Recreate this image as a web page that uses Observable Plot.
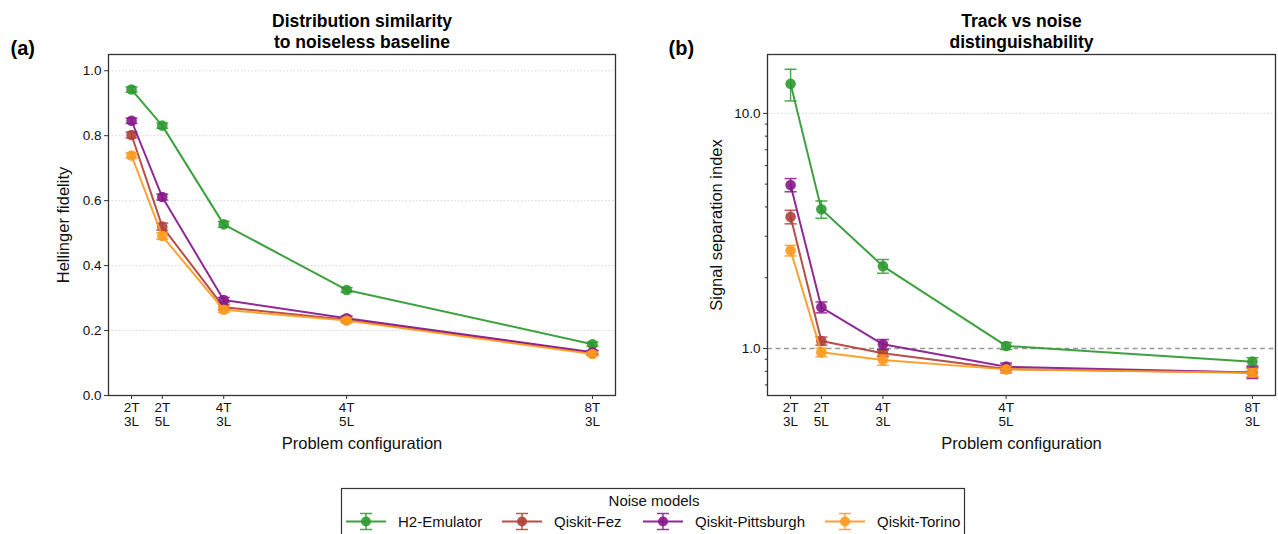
<!DOCTYPE html>
<html>
<head>
<meta charset="utf-8">
<script src="https://cdn.jsdelivr.net/npm/d3@7"></script>
<script src="https://cdn.jsdelivr.net/npm/@observablehq/plot@0.6"></script>
<style>
  html, body { margin: 0; padding: 0; background: #fff; }
  #wrap { position: relative; width: 1278px; height: 534px; overflow: hidden; font-family: "Liberation Sans", Arial, sans-serif; }
  #left, #right, #legend { position: absolute; top: 0; }
  #left { left: 0; }
  #right { left: 640px; }
  #legend { left: 0; top: 0; }
</style>
</head>
<body>
<div id="wrap">
  <div id="left"></div>
  <div id="right"></div>
  <div id="legend"></div>
</div>
<script>
// ---------- data ----------
const configLabels = ["2T\n3L", "2T\n5L", "4T\n3L", "4T\n5L", "8T\n3L"];
const configX = [1, 2, 4, 8, 16];

const models = ["H2-Emulator", "Qiskit-Fez", "Qiskit-Pittsburgh", "Qiskit-Torino"];
const modelColors = ["#2e9930", "#b0403a", "#86178c", "#fd9a1e"];

// Hellinger fidelity (panel a)
const fidH2   = [0.942, 0.831, 0.527, 0.325, 0.158];
const fidFez  = [0.802, 0.520, 0.272, 0.233, 0.131];
const fidPitt = [0.846, 0.611, 0.294, 0.238, 0.133];
const fidTor  = [0.739, 0.491, 0.264, 0.231, 0.128];
const fidErrH2   = [0.008, 0.008, 0.009, 0.007, 0.006];
const fidErrFez  = [0.009, 0.011, 0.008, 0.007, 0.006];
const fidErrPitt = [0.008, 0.009, 0.008, 0.007, 0.006];
const fidErrTor  = [0.008, 0.010, 0.008, 0.007, 0.006];

// Signal separation index (panel b)
const sepH2   = [13.35, 3.91, 2.24, 1.025, 0.879];
const sepFez  = [3.63, 1.076, 0.954, 0.818, 0.790];
const sepPitt = [4.96, 1.497, 1.042, 0.837, 0.790];
const sepTor  = [2.61, 0.963, 0.893, 0.815, 0.789];
const sepErrH2   = [2.05, 0.33, 0.15, 0.035, 0.034];
const sepErrFez  = [0.24, 0.043, 0.030, 0.030, 0.035];
const sepErrPitt = [0.32, 0.080, 0.050, 0.030, 0.045];
const sepErrTor  = [0.135, 0.040, 0.045, 0.025, 0.030];

const fidSeries = [fidH2, fidFez, fidPitt, fidTor];
const fidErrSeries = [fidErrH2, fidErrFez, fidErrPitt, fidErrTor];
const sepSeries = [sepH2, sepFez, sepPitt, sepTor];
const sepErrSeries = [sepErrH2, sepErrFez, sepErrPitt, sepErrTor];

function rowsFor(vals, errs, m) {
  return configX.map((x, i) => ({model: models[m], x, y: vals[i], lo: vals[i] - errs[i], hi: vals[i] + errs[i]}));
}

const FONT = '"Liberation Sans", Arial, sans-serif';
const capSymbol = { draw(ctx, size) { const w = Math.sqrt(size / Math.PI); ctx.moveTo(-w, 0); ctx.lineTo(w, 0); } };

function seriesMarks(series, errSeries) {
  return models.flatMap((name, m) => {
    const rows = rowsFor(series[m], errSeries[m], m);
    const c = modelColors[m];
    return [
      Plot.line(rows, {x: "x", y: "y", stroke: c, strokeWidth: 2, strokeOpacity: 0.92}),
      Plot.ruleX(rows, {x: "x", y1: "lo", y2: "hi", stroke: c, strokeWidth: 1.5, strokeOpacity: 0.85}),
      Plot.dot(rows, {x: "x", y: "lo", symbol: capSymbol, r: 6, stroke: c, strokeWidth: 1.5, strokeOpacity: 0.85}),
      Plot.dot(rows, {x: "x", y: "hi", symbol: capSymbol, r: 6, stroke: c, strokeWidth: 1.5, strokeOpacity: 0.85}),
      Plot.dot(rows, {x: "x", y: "y", r: 5.3, fill: c, fillOpacity: 0.9, stroke: "none"})
    ];
  });
}

const xTickFormat = d => configLabels[configX.indexOf(d)];

// ---------- panel a ----------
const left = Plot.plot({
  width: 640, height: 470,
  marginLeft: 108, marginRight: 25, marginTop: 54, marginBottom: 75,
  style: {fontFamily: FONT, fontSize: "13.5px", color: "#333", background: "white"},
  x: {domain: [0.25, 16.75]},
  y: {domain: [0, 1.05]},
  marks: [
    Plot.gridY([0.2, 0.4, 0.6, 0.8, 1.0], {stroke: "#cccccc", strokeOpacity: 1, strokeDasharray: "1.5,2", strokeWidth: 0.8}),
    Plot.axisX({ticks: configX, tickFormat: xTickFormat, tickSize: 4, tickPadding: 2, label: null, fill: "#111", lineHeight: 1.05}),
    Plot.axisY({ticks: [0, 0.2, 0.4, 0.6, 0.8, 1.0], tickFormat: d => d.toFixed(1), tickSize: 4, tickPadding: 3, label: null, fill: "#111"}),
    ...seriesMarks(fidSeries, fidErrSeries),
    Plot.frame({stroke: "#333", strokeWidth: 1.3}),
    Plot.text(["Problem configuration"], {frameAnchor: "bottom", dy: 48, fontSize: 16.5, fill: "#111", lineAnchor: "middle", textAnchor: "middle"}),
    Plot.text(["Hellinger fidelity"], {frameAnchor: "left", rotate: -90, dx: -45, fontSize: 16.5, fill: "#111", textAnchor: "middle", lineAnchor: "middle"}),
    Plot.text(["Distribution similarity\nto noiseless baseline"], {frameAnchor: "top", dy: -23.5, fontSize: 17.5, fontWeight: "bold", lineHeight: 1.2, lineAnchor: "middle", textAnchor: "middle", fill: "#000"}),
    Plot.text(["(a)"], {frameAnchor: "top-left", dx: -98, dy: -5.5, textAnchor: "start", lineAnchor: "middle", fontSize: 20, fontWeight: "bold", fill: "#000"})
  ]
});
document.getElementById("left").appendChild(left);

// ---------- panel b ----------
const right = Plot.plot({
  width: 638, height: 470,
  marginLeft: 127, marginRight: 3, marginTop: 54, marginBottom: 75,
  style: {fontFamily: FONT, fontSize: "13.5px", color: "#333", background: "white"},
  x: {domain: [0.25, 16.75]},
  y: {type: "log", domain: [0.631, 17.8]},
  marks: [
    Plot.gridY([10], {stroke: "#cccccc", strokeOpacity: 1, strokeDasharray: "1.5,2", strokeWidth: 0.8}),
    Plot.ruleY([1], {stroke: "#999", strokeWidth: 1.4, strokeDasharray: "5,3.5"}),
    Plot.axisX({ticks: configX, tickFormat: xTickFormat, tickSize: 4, tickPadding: 2, label: null, fill: "#111", lineHeight: 1.05}),
    Plot.axisY({ticks: [1, 10], tickFormat: d => d.toFixed(1), tickSize: 4, tickPadding: 3, label: null, fill: "#111"}),
    Plot.axisY({ticks: [0.7, 0.8, 0.9, 2, 3, 4, 5, 6, 7, 8, 9], tickFormat: () => "", tickSize: 2.2, label: null}),
    ...seriesMarks(sepSeries, sepErrSeries),
    Plot.frame({stroke: "#333", strokeWidth: 1.3}),
    Plot.text(["Problem configuration"], {frameAnchor: "bottom", dy: 48, fontSize: 16.5, fill: "#111", lineAnchor: "middle", textAnchor: "middle"}),
    Plot.text(["Signal separation index"], {frameAnchor: "left", rotate: -90, dx: -51, fontSize: 16.5, fill: "#111", textAnchor: "middle", lineAnchor: "middle"}),
    Plot.text(["Track vs noise\ndistinguishability"], {frameAnchor: "top", dy: -23.5, fontSize: 17.5, fontWeight: "bold", lineHeight: 1.2, lineAnchor: "middle", textAnchor: "middle", fill: "#000"}),
    Plot.text(["(b)"], {frameAnchor: "top-left", dx: -99, dy: -5.5, textAnchor: "start", lineAnchor: "middle", fontSize: 20, fontWeight: "bold", fill: "#000"})
  ]
});
document.getElementById("right").appendChild(right);

// ---------- legend ----------
const legendX = [366, 522, 663, 845];
const svg = d3.select("#legend").append("svg").attr("width", 1278).attr("height", 534)
  .style("font-family", FONT);
svg.append("rect").attr("x", 341.5).attr("y", 488.5).attr("width", 623).attr("height", 60)
  .attr("fill", "white").attr("stroke", "#333").attr("stroke-width", 1.2);
svg.append("text").attr("x", 654).attr("y", 500.5).attr("text-anchor", "middle").attr("dominant-baseline", "central")
  .attr("font-size", 15).attr("fill", "#111").text("Noise models");
models.forEach((name, m) => {
  const cx = legendX[m], cy = 521.5, c = modelColors[m];
  const g = svg.append("g");
  g.append("line").attr("x1", cx - 20).attr("x2", cx + 20).attr("y1", cy).attr("y2", cy).attr("stroke", c).attr("stroke-width", 2).attr("stroke-opacity", 0.92);
  g.append("line").attr("x1", cx).attr("x2", cx).attr("y1", cy - 8).attr("y2", cy + 8).attr("stroke", c).attr("stroke-width", 1.5).attr("stroke-opacity", 0.85);
  [cy - 8, cy + 8].forEach(yy => g.append("line").attr("x1", cx - 6).attr("x2", cx + 6).attr("y1", yy).attr("y2", yy).attr("stroke", c).attr("stroke-width", 1.5).attr("stroke-opacity", 0.85));
  g.append("circle").attr("cx", cx).attr("cy", cy).attr("r", 5).attr("fill", c).attr("fill-opacity", 0.9);
  g.append("text").attr("x", cx + 32).attr("y", cy).attr("dominant-baseline", "central").attr("font-size", 15).attr("fill", "#111").text(name);
});
</script>
</body>
</html>
